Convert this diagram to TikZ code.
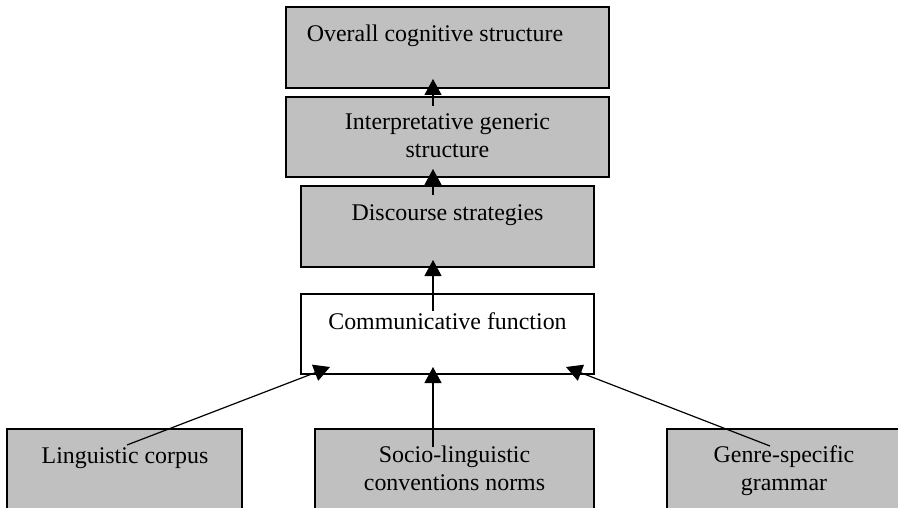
\documentclass[tikz,border=0pt]{standalone}
\usepackage{fontspec}
\setmainfont{Liberation Serif}
\usetikzlibrary{arrows.meta}
\definecolor{boxgray}{HTML}{C0C0C0}
\begin{document}
\begin{tikzpicture}[x=1pt,y=-1pt,
  graybox/.style={draw=black,line width=1.1pt,fill=boxgray,rectangle,inner sep=0pt},
  whitebox/.style={draw=black,line width=1.1pt,fill=white,rectangle,inner sep=0pt},
  lbl/.style={font=\fontsize{23.9}{28}\selectfont,align=center,inner sep=0pt,anchor=base},
  arr/.style={line width=1.2pt,-{Triangle[length=16pt,width=17pt]}}]
\useasboundingbox (0,0) rectangle (898,508);
\clip (0,0) rectangle (898,508);
% boxes
\node[graybox,minimum width=323pt,minimum height=81pt] (b1) at (447.5,47.5) {};
\node[graybox,minimum width=323pt,minimum height=80pt] (b2) at (447.5,137) {};
\node[graybox,minimum width=293pt,minimum height=81pt] (b3) at (447.5,226.5) {};
\node[whitebox,minimum width=293pt,minimum height=80pt] (b4) at (447.5,334) {};
\node[graybox,minimum width=235pt,minimum height=100pt] (b5) at (124.5,479) {};
\node[graybox,minimum width=279pt,minimum height=100pt] (b6) at (454.5,479) {};
\node[graybox,minimum width=238pt,minimum height=100pt] (b7) at (786,479) {};
% labels (base anchor = baseline of last line)
\node[lbl] (t1) at (435,42) {Overall cognitive structure};
\node[lbl] (t2) at (447.5,158) {Interpretative generic\\structure};
\node[lbl] (t3) at (447.5,221) {Discourse strategies};
\node[lbl] (t4) at (447.5,329) {Communicative function};
\node[lbl] (t5) at (125,463) {Linguistic corpus};
\node[lbl] (t6) at (454.5,490) {Socio-linguistic\\conventions norms};
\node[lbl] (t7) at (784,490) {Genre-specific\\grammar};
% connector ends
\coordinate (s1) at (433,106);  \coordinate (e1) at (433,79);
\coordinate (s2) at (433,195);  \coordinate (e2) at (433,169);
\coordinate (s3) at (433,311);  \coordinate (e3) at (433,260);
\coordinate (s4) at (127,445);  \coordinate (e4) at (330,367);
\coordinate (s5) at (433,447);  \coordinate (e5) at (433,367);
\coordinate (s6) at (770,446);  \coordinate (e6) at (566,367);
\draw[arr] (s1) -- (e1);
\draw[arr] (s2) -- (e2);
\draw[arr] (s3) -- (e3);
\draw[arr] (s4) -- (e4);
\draw[arr] (s5) -- (e5);
\draw[arr] (s6) -- (e6);
\end{tikzpicture}
\end{document}
